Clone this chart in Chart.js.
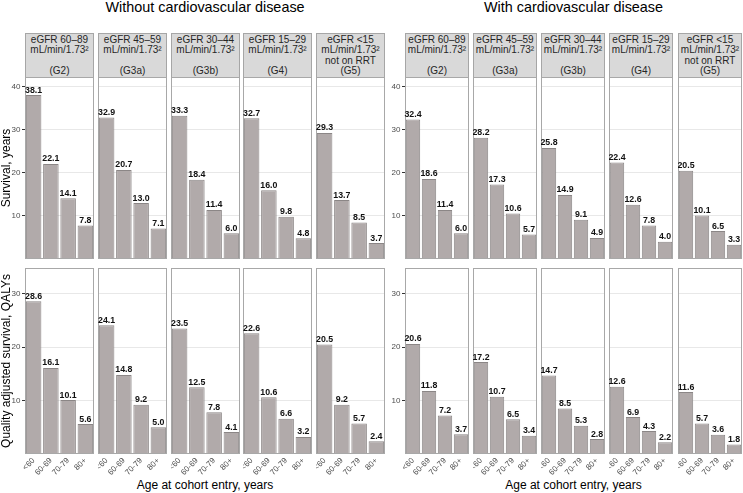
<!DOCTYPE html>
<html><head><meta charset="utf-8">
<script src="https://cdn.jsdelivr.net/npm/chart.js@4.4.1/dist/chart.umd.min.js"></script>
<style>
html,body{margin:0;padding:0;background:#fff;}
body{width:743px;height:493px;position:relative;overflow:hidden;font-family:"Liberation Sans",Arial,Helvetica,sans-serif;}
.strip{position:absolute;box-sizing:border-box;background:#d9d9d9;border:1px solid #a6a6a6;display:flex;flex-direction:column;justify-content:center;align-items:center;font-size:10px;line-height:10.2px;color:#262626;text-align:center;white-space:nowrap;}
.gtitle{position:absolute;font-size:14.4px;line-height:16px;color:#000;white-space:nowrap;transform:translateX(-50%);}
.xtitle{position:absolute;font-size:12px;line-height:14px;color:#000;white-space:nowrap;transform:translateX(-50%);}
.ytitle{position:absolute;font-size:12px;line-height:14px;color:#000;white-space:nowrap;width:300px;text-align:center;transform:translate(-50%,-50%) rotate(-90deg);}
canvas{position:absolute;}
</style>
</head>
<body>
<script>
// ---------- data ----------
const ageGroups = ['<60', '60-69', '70-79', '80+'];
const stageRange = ['eGFR 60\u201389', 'eGFR 45\u201359', 'eGFR 30\u201344', 'eGFR 15\u201329', 'eGFR <15'];
const stageUnit = 'mL/min/1.73\u00b2';
const stageExtra = ['', '', '', '', 'not on RRT'];
const stageCode = ['(G2)', '(G3a)', '(G3b)', '(G4)', '(G5)'];

// Survival, years (rows: G2, G3a, G3b, G4, G5; cols: <60, 60-69, 70-79, 80+)
const survivalNoCVD = [
  [38.1, 22.1, 14.1, 7.8],
  [32.9, 20.7, 13.0, 7.1],
  [33.3, 18.4, 11.4, 6.0],
  [32.7, 16.0, 9.8, 4.8],
  [29.3, 13.7, 8.5, 3.7]
];
const survivalCVD = [
  [32.4, 18.6, 11.4, 6.0],
  [28.2, 17.3, 10.6, 5.7],
  [25.8, 14.9, 9.1, 4.9],
  [22.4, 12.6, 7.8, 4.0],
  [20.5, 10.1, 6.5, 3.3]
];
// Quality adjusted survival, QALYs
const qalyNoCVD = [
  [28.6, 16.1, 10.1, 5.6],
  [24.1, 14.8, 9.2, 5.0],
  [23.5, 12.5, 7.8, 4.1],
  [22.6, 10.6, 6.6, 3.2],
  [20.5, 9.2, 5.7, 2.4]
];
const qalyCVD = [
  [20.6, 11.8, 7.2, 3.7],
  [17.2, 10.7, 6.5, 3.4],
  [14.7, 8.5, 5.3, 2.8],
  [12.6, 6.9, 4.3, 2.2],
  [11.6, 5.7, 3.6, 1.8]
];
const survivalTicks = [10, 20, 30, 40];
const qalyTicks = [10, 20, 30];
const groupTitles = ['Without cardiovascular disease', 'With cardiovascular disease'];

// ---------- layout ----------
const FONT = '"Liberation Sans", Arial, Helvetica, sans-serif';
const groups = [
  { xs: [25, 98, 171, 243, 316], w: 69, surv: survivalNoCVD, qaly: qalyNoCVD },
  { xs: [405, 473, 541, 609, 678], w: 64, surv: survivalCVD, qaly: qalyCVD }
];
const rows = [
  { key: 'surv', top: 77, h: 182, max: 42.3, ticks: survivalTicks, showX: false },
  { key: 'qaly', top: 268, h: 186, max: 34.8, ticks: qalyTicks, showX: true }
];
const AXW = 25, XAH = 28;
const STRIP_TOP = 33, STRIP_H = 45;

const panelPlugin = {
  id: 'panelDeco',
  afterDatasetsDraw(chart) {
    const { ctx, chartArea: a } = chart;
    ctx.save();
    ctx.strokeStyle = '#a8a8a8';
    ctx.lineWidth = 1;
    ctx.strokeRect(Math.round(a.left) + 0.5, Math.round(a.top) + 0.5,
      Math.round(a.right - a.left) - 1, Math.round(a.bottom - a.top) - 1);
    const meta = chart.getDatasetMeta(0);
    const vals = chart.data.datasets[0].data;
    ctx.fillStyle = '#111';
    ctx.font = 'bold 8.8px ' + FONT;
    ctx.textAlign = 'center';
    ctx.textBaseline = 'alphabetic';
    meta.data.forEach((bar, i) => {
      ctx.fillText(vals[i].toFixed(1), bar.x, bar.y - 2.5);
    });
    ctx.restore();
  }
};

function makePanel(left, top, width, height, values, row, showY) {
  const c = document.createElement('canvas');
  c.width = width; c.height = height;
  c.style.left = left + 'px'; c.style.top = top + 'px';
  c.style.width = width + 'px'; c.style.height = height + 'px';
  document.body.appendChild(c);
  new Chart(c, {
    type: 'bar',
    data: {
      labels: ageGroups,
      datasets: [{
        data: values,
        backgroundColor: '#b1aaaa',
        borderColor: '#8b8686',
        borderWidth: 1,
        categoryPercentage: 1,
        barPercentage: 0.9
      }]
    },
    options: {
      responsive: false,
      animation: false,
      devicePixelRatio: 1,
      events: [],
      layout: { padding: 0 },
      plugins: { legend: { display: false }, tooltip: { enabled: false }, title: { display: false } },
      scales: {
        x: {
          display: row.showX,
          offset: true,
          grid: { display: false, drawTicks: false },
          border: { display: false },
          ticks: { autoSkip: false, maxRotation: 45, minRotation: 45, padding: 2, color: '#4d4d4d',
                   font: { family: FONT, size: 8 } },
          afterFit(s) { s.height = row.showX ? XAH : 0; s.paddingLeft = 0; s.paddingRight = 0; }
        },
        y: {
          min: 0, max: row.max,
          border: { display: false },
          grid: { color: '#e8e8e8', lineWidth: 1, drawTicks: showY, tickLength: 3, tickColor: '#333' },
          ticks: { display: showY, color: '#4d4d4d', padding: 1.5, font: { family: FONT, size: 8 } },
          afterBuildTicks(s) { s.ticks = row.ticks.map(v => ({ value: v })); },
          afterFit(s) { s.width = showY ? AXW : 0; s.paddingTop = 0; s.paddingBottom = 0; }
        }
      }
    },
    plugins: [panelPlugin]
  });
}

function addDiv(cls, html, style) {
  const d = document.createElement('div');
  d.className = cls;
  d.innerHTML = html;
  Object.assign(d.style, style);
  document.body.appendChild(d);
  return d;
}

groups.forEach((g, gi) => {
  const gLeft = g.xs[0], gRight = g.xs[4] + g.w;
  const cx = (gLeft + gRight) / 2;
  addDiv('gtitle', groupTitles[gi], { left: cx + 'px', top: '-1px' });
  addDiv('xtitle', 'Age at cohort entry, years', { left: cx + 'px', top: '478px' });
  g.xs.forEach((x, si) => {
    addDiv('strip',
      `<div>${stageRange[si]}</div><div>${stageUnit}</div><div>${stageExtra[si] || '&nbsp;'}</div><div>${stageCode[si]}</div>`,
      { left: x + 'px', top: STRIP_TOP + 'px', width: g.w + 'px', height: STRIP_H + 'px' });
    rows.forEach(row => {
      const showY = si === 0;
      const left = x - (showY ? AXW : 0);
      const width = g.w + (showY ? AXW : 0);
      const height = row.h + (row.showX ? XAH : 0);
      makePanel(left, row.top, width, height, g[row.key][si], row, showY);
    });
  });
});

addDiv('ytitle', 'Survival, years', { left: '6px', top: '168px' });
addDiv('ytitle', 'Quality adjusted survival, QALYs', { left: '6px', top: '361px' });
</script>
</body>
</html>
